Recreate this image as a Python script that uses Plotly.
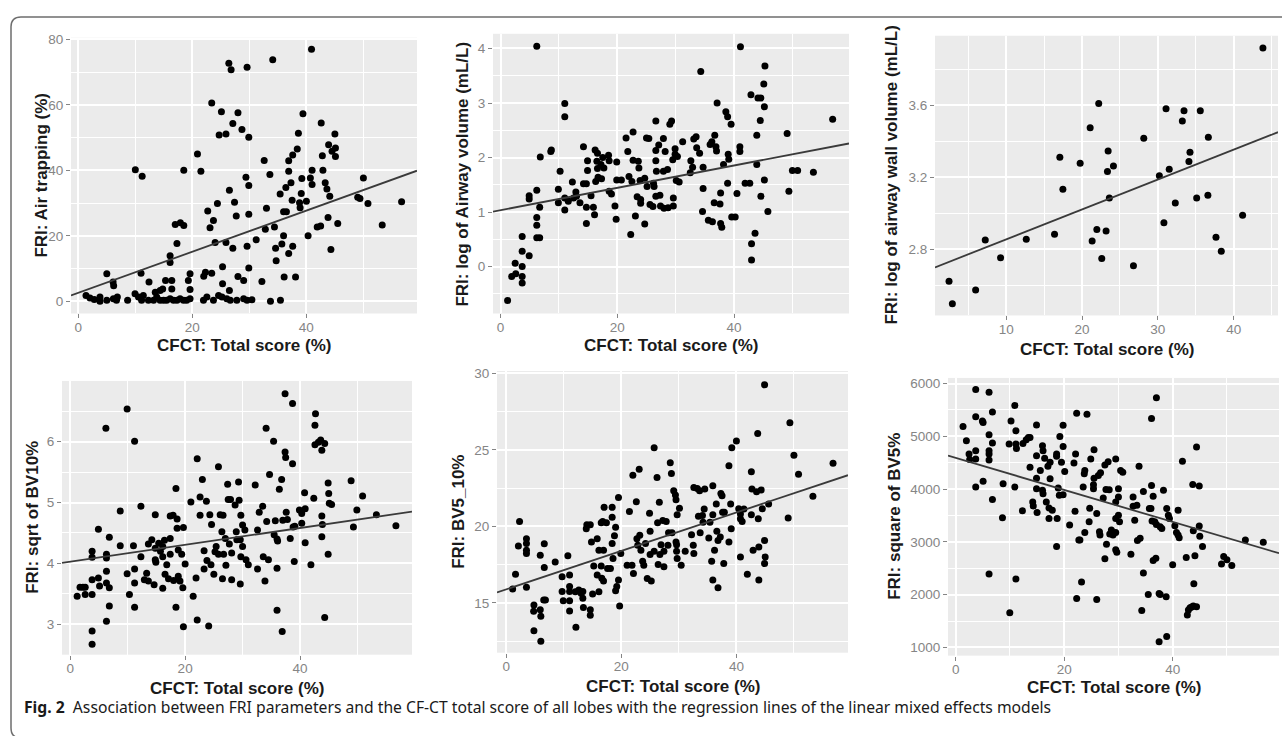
import plotly.graph_objects as go

# ---------------- data ----------------
x_title = "CFCT: Total score (%)"

p1_title = "FRI: Air trapping (%)"
p1_x = [1.35,2.05,2.8,3.8,3.8,5.0,6.15,6.7,6.85,8.65,9.95,10.55,11.1,11.4,12.3,13.2,13.75,14.35,14.95,15.5,
        16.1,16.7,17.3,17.85,18.45,19.0,19.6,21.95,22.55,23.7,24.6,25.2,26.05,26.65,27.8,29.0,29.6,30.45,33.7,35.45,
        13.5,14.35,14.8,16.4,19.6,25.3,26.5,5.0,6.1,6.2,10.0,11.2,11.0,12.4,15.3,16.4,16.1,16.1,17.0,17.3,
        17.9,18.5,18.5,19.3,19.6,20.9,21.5,22.0,22.3,22.7,23.1,23.7,23.4,23.4,24.0,24.4,24.7,25.1,25.3,25.9,
        25.9,26.4,26.8,26.5,27.1,27.1,27.4,27.7,28.0,28.0,28.7,29.0,29.6,29.4,29.6,29.9,29.9,29.9,29.9,31.2,
        32.2,32.6,32.8,33.0,33.6,34.1,34.4,34.6,34.7,35.4,35.7,36.0,36.0,36.1,36.4,36.5,36.9,36.9,36.9,37.3,
        37.5,37.6,37.6,38.1,38.4,38.6,38.8,38.9,39.1,39.2,39.4,40.0,40.3,40.7,40.9,41.0,41.0,41.9,42.5,42.6,
        42.8,42.9,43.3,43.6,43.8,43.9,44.1,44.3,44.5,45.0,45.1,45.1,45.5,49.0,49.4,50.0,50.8,53.3,56.7]
p1_y = [1.8,1.0,0.6,1.3,0.0,0.3,0.8,0.3,1.3,0.3,2.3,1.3,0.3,1.8,0.3,0.3,1.3,0.3,0.3,0.3,
        0.8,0.3,0.3,0.8,0.3,0.3,0.8,0.3,1.3,0.3,1.8,1.3,0.8,0.3,0.3,0.8,0.3,0.5,0.0,0.3,
        2.8,3.3,3.8,3.8,3.6,5.4,3.3,8.4,5.9,4.8,40.2,38.2,8.6,5.9,6.4,6.4,13.9,11.9,23.5,17.7,
        24.0,23.2,40.0,6.4,8.4,45.0,39.7,7.7,8.9,27.6,22.5,24.7,60.6,8.6,18.0,29.9,50.8,57.9,10.6,51.1,
        18.0,72.7,70.7,33.9,54.3,16.2,30.3,26.1,57.6,7.6,52.5,6.4,71.5,37.9,16.8,50.1,35.4,26.6,10.2,18.8,
        6.1,43.0,22.0,28.4,38.7,73.8,22.7,16.2,12.4,32.8,17.5,20.0,27.4,7.4,34.8,27.4,39.7,42.9,14.6,36.2,
        30.9,44.7,16.8,7.4,46.5,51.3,30.1,28.6,32.9,37.5,57.3,30.6,20.0,37.7,77.0,40.0,35.7,22.7,23.0,54.5,
        44.5,40.0,36.2,34.3,25.6,47.8,32.1,15.8,45.8,51.1,46.8,44.2,23.8,31.8,31.4,37.7,29.9,23.3,30.4]

p2_title = "FRI: log of Airway volume (mL/L)"
p2_x = [1.2,1.9,2.5,2.6,3.7,3.7,3.7,3.7,3.7,4.9,4.9,4.9,6.2,6.2,6.2,6.2,6.2,6.7,6.7,6.8,
        8.6,8.7,9.9,9.9,10.2,11.0,11.0,11.0,11.0,11.6,12.3,12.5,12.9,13.0,13.6,14.2,14.2,14.7,14.7,14.7,
        14.9,14.9,15.5,15.9,16.1,16.2,16.3,16.5,16.6,16.6,16.7,17.2,17.3,17.5,17.7,18.5,18.6,18.6,19.0,19.6,
        19.8,19.9,19.9,20.7,21.5,21.8,22.0,22.3,22.5,22.7,22.7,23.1,23.6,23.7,23.4,24.0,24.0,23.9,24.7,24.7,
        25.0,25.1,25.4,25.6,26.1,26.2,26.3,26.6,26.6,26.6,26.6,26.7,27.1,27.3,27.4,27.9,27.9,28.0,28.2,28.6,
        28.7,29.0,29.3,29.5,29.6,29.6,29.9,29.9,30.1,30.3,30.6,31.2,32.5,32.6,32.9,33.1,33.5,33.6,34.1,34.3,
        34.6,34.7,34.7,35.6,35.9,36.2,36.3,36.6,36.7,36.9,37.0,37.1,37.6,37.7,37.7,37.9,38.2,38.6,38.9,38.9,
        39.0,39.1,39.5,39.6,40.2,40.5,41.0,41.0,41.1,41.9,42.7,42.9,43.0,43.0,43.6,43.9,43.9,44.1,44.5,44.6,
        44.6,45.1,45.2,45.2,45.3,45.8,49.1,49.4,50.0,50.9,53.6,56.9]
p2_y = [-0.62,-0.18,0.06,-0.13,0.55,0.28,0.0,-0.18,-0.30,0.20,1.30,1.24,4.04,1.40,0.90,0.76,0.53,0.53,1.09,2.01,
        2.11,2.14,1.42,1.17,1.75,2.99,2.75,1.26,1.04,1.20,1.55,1.26,1.37,1.29,1.17,2.20,1.52,1.52,1.09,0.79,
        1.94,1.76,1.30,1.09,0.95,2.14,1.56,1.93,1.80,2.08,1.64,1.87,1.61,2.00,1.81,2.04,1.94,1.38,1.33,1.11,
        0.87,1.92,1.59,1.59,2.36,2.11,1.65,0.59,1.56,2.47,1.95,0.93,1.93,1.81,1.28,1.23,1.16,1.58,0.78,1.62,
        2.36,1.47,2.35,1.14,1.10,1.53,1.47,2.67,2.13,1.94,1.29,1.75,2.23,1.31,1.11,2.35,1.75,1.07,2.11,1.78,
        1.08,2.61,2.67,1.96,1.26,1.11,2.16,2.06,1.58,2.02,1.55,2.29,1.72,1.94,1.82,2.34,2.38,2.18,2.08,3.58,
        1.01,1.82,1.43,0.85,2.24,2.29,0.82,1.17,2.41,2.20,2.12,3.00,1.15,0.79,1.35,0.72,1.87,2.84,2.75,1.53,
        2.06,1.97,2.61,0.91,0.91,1.34,2.20,2.11,4.03,1.53,1.53,3.15,0.42,0.12,0.61,2.41,1.87,3.09,2.68,3.09,
        1.29,3.35,2.93,1.59,3.68,1.01,2.44,1.38,1.76,1.76,1.73,2.70]

p3_title = "FRI: log of airway wall volume (mL/L)"
p3_x = [2.45,2.89,5.96,7.23,9.25,12.64,16.37,17.07,17.47,19.75,21.07,21.33,21.95,22.2,22.6,23.17,23.35,23.44,23.6,24.14,
        26.78,28.14,30.2,30.8,31.08,31.5,32.3,33.23,33.45,34.1,34.24,35.12,35.6,36.6,36.66,37.67,38.37,41.18,43.86]
p3_y = [2.622,2.497,2.574,2.851,2.752,2.855,2.883,3.311,3.133,3.278,3.475,2.846,2.910,3.609,2.748,2.901,3.232,3.346,3.085,3.263,
        2.708,3.416,3.208,2.947,3.580,3.245,3.057,3.512,3.569,3.287,3.339,3.085,3.569,3.100,3.422,2.866,2.789,2.989,3.918]

p4_title = "FRI: sqrt of BV10%"
p4_x = [1.2,1.7,2.2,2.6,2.6,3.8,3.8,3.8,3.8,3.8,3.8,4.9,4.9,5.1,6.2,6.3,6.3,6.3,6.3,6.3,
        6.8,6.8,6.8,8.7,8.7,9.9,9.9,10.3,11.0,11.2,11.2,11.2,11.2,12.3,12.3,12.9,13.3,13.6,13.6,14.2,
        14.6,14.8,14.8,14.8,14.9,15.4,15.7,16.1,16.1,16.1,16.4,16.5,16.8,17.1,17.4,17.4,17.4,17.9,18.0,18.4,
        18.4,18.6,18.6,18.8,18.8,19.1,19.4,19.6,19.7,19.7,20.0,21.0,21.4,21.9,22.1,22.1,22.6,22.6,23.0,23.3,
        23.3,23.7,23.8,24.1,24.3,24.5,24.6,25.0,25.2,25.4,25.8,25.8,26.1,26.4,26.5,26.6,26.7,27.0,27.1,27.4,
        27.5,27.7,27.9,28.1,28.1,28.7,28.9,29.0,29.3,29.4,29.6,29.6,29.7,29.7,30.0,30.0,30.4,30.6,31.0,32.2,
        32.6,32.6,32.9,33.5,33.6,33.9,34.1,34.2,34.5,34.7,35.4,35.5,35.7,36.0,36.1,36.0,36.0,36.4,36.8,36.9,
        37.0,37.4,37.4,37.5,37.6,37.8,38.3,38.7,38.7,38.8,39.0,39.1,39.9,40.3,40.3,40.8,40.9,40.9,41.9,42.4,
        42.7,42.6,42.6,43.2,43.6,43.8,43.8,43.9,43.8,44.3,44.3,44.9,45.0,44.9,45.1,45.5,48.9,49.3,49.9,50.9,
        53.3,56.7]
p4_y = [3.46,3.61,3.61,3.61,3.49,4.20,4.10,3.73,3.49,2.89,2.67,4.56,3.76,3.63,6.22,4.15,4.09,3.87,3.68,3.05,
        4.43,3.60,3.30,4.86,4.29,6.54,3.83,3.49,4.29,6.01,3.91,3.68,3.28,4.94,4.11,3.73,3.84,3.71,4.32,4.39,
        3.65,4.80,4.25,4.06,4.02,4.33,4.20,4.28,4.11,3.59,4.38,3.82,3.98,3.75,4.78,4.15,4.41,4.79,3.72,5.23,
        3.28,4.73,4.58,4.22,3.79,3.71,4.15,3.60,4.59,2.96,3.99,5.01,3.46,3.76,5.72,3.07,4.79,5.09,5.38,4.21,
        3.91,5.02,4.05,2.97,4.80,3.98,4.64,3.82,4.19,4.28,5.59,4.15,4.80,4.52,3.75,4.79,4.15,4.41,3.97,5.30,
        5.05,4.32,5.05,4.17,3.73,4.96,4.52,4.39,5.34,5.04,4.39,3.66,4.11,4.79,4.28,4.63,4.55,4.06,3.98,5.29,
        4.55,3.91,4.84,4.94,4.11,3.71,6.22,4.69,4.06,5.46,6.01,4.47,4.70,4.40,4.37,3.92,3.23,5.22,5.38,2.88,
        4.71,6.79,5.83,5.74,4.84,4.72,4.41,6.63,5.64,4.60,4.03,4.61,4.88,4.82,4.66,5.16,4.90,4.34,3.98,5.07,
        6.46,6.27,5.95,5.99,6.03,5.86,4.78,4.64,4.44,5.97,3.11,5.32,5.15,4.15,4.99,4.97,5.36,4.60,4.88,5.11,
        4.80,4.62]

p5_title = "FRI: BV5_10%"
p5_x = [1.1,1.6,2.3,2.1,3.5,3.5,3.5,3.5,3.5,4.8,4.75,4.8,5.9,5.9,6.0,6.0,6.5,6.8,6.6,6.6,
        8.5,9.7,9.7,9.9,10.7,11.0,11.0,11.0,11.0,11.0,12.0,12.1,12.6,13.0,13.3,13.3,13.4,13.9,14.0,14.6,
        14.6,14.6,14.8,15.0,15.2,15.8,15.8,16.1,16.1,16.5,16.5,16.6,16.75,16.9,16.9,17.0,17.4,17.6,18.1,18.4,
        18.4,18.4,18.55,18.8,19.0,19.0,19.2,19.5,19.5,19.7,19.9,21.4,21.0,21.85,22.0,22.1,22.6,22.7,22.85,23.1,
        23.2,23.4,23.7,23.9,24.2,24.5,24.9,25.0,25.0,25.2,25.7,25.7,26.2,26.3,26.4,26.6,26.7,26.9,27.2,27.4,
        27.4,27.8,28.1,28.2,28.5,28.7,28.8,29.1,29.4,29.5,29.5,29.6,29.6,29.7,29.7,30.1,30.4,31.1,32.2,32.5,
        32.6,32.6,33.2,33.4,33.6,33.7,34.1,34.2,34.4,34.5,35.2,35.4,35.7,35.9,35.9,35.9,36.2,36.5,36.6,36.8,
        36.8,37.2,37.3,37.5,37.6,37.9,37.8,38.7,38.7,39.0,39.1,39.2,40.0,40.4,40.7,40.7,41.0,40.7,41.3,41.9,
        42.6,42.6,42.7,42.9,43.5,43.7,43.8,43.9,43.9,44.3,44.5,44.9,45.0,44.9,44.9,45.6,49.0,49.3,50.0,50.8,
        53.3,56.8]
p5_y = [15.92,16.87,20.32,18.73,19.20,18.88,18.44,18.23,16.02,14.87,14.45,13.18,18.12,14.55,14.13,12.50,15.20,15.20,18.87,17.32,
        17.68,16.71,15.75,15.14,18.08,16.82,16.07,15.75,15.14,14.48,15.74,13.41,15.85,15.63,15.75,15.30,14.70,19.85,20.11,20.11,
        14.55,14.19,18.98,15.58,17.42,19.20,16.82,18.44,15.74,20.24,17.42,16.61,20.32,18.44,16.44,21.25,20.24,17.26,17.26,21.25,
        18.88,20.60,17.90,19.40,19.95,15.79,16.07,21.90,16.50,14.80,18.23,20.97,17.47,17.47,23.35,16.93,21.62,19.20,18.77,23.74,
        19.42,18.44,17.73,17.47,18.88,16.60,20.87,19.68,18.16,16.44,25.15,18.38,23.20,20.24,17.52,21.58,18.16,18.81,20.39,17.37,
        18.38,20.32,18.77,19.59,24.17,23.46,19.59,22.34,22.05,21.75,18.98,18.81,18.38,17.90,20.76,21.19,17.47,18.38,19.46,18.77,
        18.23,22.55,22.48,20.67,22.33,19.59,20.71,20.28,21.14,22.44,19.24,20.28,17.73,22.66,20.76,16.50,18.44,21.47,19.68,19.09,
        16.00,19.31,22.16,22.01,20.93,20.93,17.58,23.96,18.98,21.47,19.85,25.15,25.58,21.15,20.82,20.50,20.32,18.01,21.14,16.87,
        23.57,20.76,22.44,18.44,22.27,26.08,20.50,18.66,16.50,22.38,21.15,19.09,18.01,17.58,29.26,21.47,20.56,26.77,24.65,23.42,
        21.97,24.13]

p6_title = "FRI: square of BV5%"
p6_x = [1.35,1.97,2.46,2.58,3.69,3.69,3.69,3.69,3.69,4.92,5.05,5.05,6.15,6.15,6.15,6.15,6.15,6.15,6.77,6.77,
        6.77,8.62,8.74,9.97,10.2,9.85,10.9,11.1,11.1,10.9,11.1,11.2,12.3,12.4,13.0,13.4,13.7,13.7,14.2,14.3,
        14.9,14.9,14.9,14.9,15.0,15.6,16.0,16.0,16.1,16.1,16.4,16.7,17.0,17.2,17.2,17.4,17.4,17.8,18.6,18.6,
        18.6,18.7,18.9,19.1,19.2,19.5,19.8,19.8,19.8,20.1,21.0,21.8,22.0,22.1,22.3,22.3,22.7,22.9,23.2,23.5,
        23.7,23.8,23.8,24.2,24.6,24.7,24.9,25.4,25.4,25.5,25.5,26.0,26.0,26.3,26.5,26.6,26.7,27.2,27.5,27.5,
        27.7,27.8,28.1,28.3,28.4,28.7,29.0,29.5,29.5,29.5,29.5,29.5,29.7,30.0,30.0,30.0,30.2,30.4,30.8,32.3,
        32.7,32.7,33.0,33.4,33.5,33.8,34.0,34.3,34.6,34.6,35.5,35.7,36.0,36.1,36.1,36.2,36.4,36.4,36.7,36.9,
        37.0,37.0,37.5,37.5,37.7,37.7,38.0,38.3,38.8,38.9,38.9,39.2,39.4,40.0,40.4,40.7,41.0,41.0,41.2,41.8,
        42.5,42.7,42.9,43.2,43.5,43.8,43.9,43.8,44.1,43.7,44.4,44.4,44.9,44.9,45.0,45.5,49.0,49.4,50.0,50.9,
        53.4,56.7]
p6_y = [5185,4916,4665,4559,5887,5373,4728,4571,4039,5292,5261,4151,5837,5029,4728,4665,4553,2391,5461,4872,
        3801,3456,4101,1658,5292,4853,5586,5104,4853,4039,2297,4772,3588,4866,4935,4979,4979,4415,3757,3682,
        5217,4634,4208,4008,3557,4352,4822,3977,3914,4728,4584,3757,4434,3444,3644,4195,4509,3600,2911,4665,
        4622,3444,4020,3882,4997,4509,5210,4809,3895,4333,3318,4496,3581,4665,5436,1927,3036,3036,2240,4039,
        4290,3180,4352,5418,3381,3638,4571,4008,4083,4208,4747,1908,3538,4259,3193,3130,4309,3832,2679,4459,
        3995,2955,4521,3989,3149,3224,3130,4571,3757,3444,3180,2849,2805,4008,3851,3506,3381,4352,4321,2767,
        3851,3676,3412,3694,3024,4434,3068,1702,3957,2410,2002,3632,3632,5336,4070,3394,3864,2648,3381,2692,
        5731,3331,2021,1106,2002,3287,3255,3977,1958,1207,3632,3506,3444,2566,3306,3180,3130,3600,3080,4528,
        2705,1614,1708,1752,1764,1783,2209,3212,2736,4089,4797,1770,4058,3300,3105,2911,2579,2723,2660,2554,
        3036,2993]

# regression lines (intercept, slope) of the linear mixed models
line_intercepts = [2.6, 1.034, 2.689, 4.03, 15.89, 4591]
line_slopes = [0.628, 0.0205, 0.0166, 0.0138, 0.1256, -30.3]

caption_bold = "Fig. 2"
caption_text = ("Association between FRI parameters and the CF-CT total score of all lobes "
                "with the regression lines of the linear mixed effects models")

# ---------------- layout helpers ----------------
W, H = 1282, 736
def fx(p):
    return p / W
def fy(p):
    return 1 - p / H

panels = [
    dict(x=p1_x, y=p1_y, title=p1_title, box=(71, 32, 417, 310), xr=[-1.28, 59.4], yr=[-3.7, 80.5],
         xt=[0, 20, 40], xtt=["0", "20", "40"], xm=(10, 20),
         yt=[0, 20, 40, 60, 80], ytt=["0", "20", "40", "60", "80"], ym=(10, 20), ytx=42, xty=342),
    dict(x=p2_x, y=p2_y, title=p2_title, box=(493, 28, 849, 310), xr=[-1.3, 59.7], yr=[-0.86, 4.27],
         xt=[0, 20, 40], xtt=["0", "20", "40"], xm=(10, 20),
         yt=[0, 1, 2, 3, 4], ytt=["0", "1", "2", "3", "4"], ym=(0.5, 1), ytx=463, xty=342),
    dict(x=p3_x, y=p3_y, title=p3_title, box=(935, 30, 1278, 312), xr=[0.6, 45.85], yr=[2.432, 3.986],
         xt=[10, 20, 30, 40], xtt=["10", "20", "30", "40"], xm=(5, 10),
         yt=[2.8, 3.2, 3.6], ytt=["2.8", "3.2", "3.6"], ym=(2.6, 0.4), ytx=892, xty=346),
    dict(x=p4_x, y=p4_y, title=p4_title, box=(62, 378, 412, 654), xr=[-1.44, 59.5], yr=[2.5, 7.0],
         xt=[0, 20, 40], xtt=["0", "20", "40"], xm=(10, 20),
         yt=[3, 4, 5, 6], ytt=["3", "4", "5", "6"], ym=(2.5, 1), ytx=33, xty=688),
    dict(x=p5_x, y=p5_y, title=p5_title, box=(497, 368, 848, 652), xr=[-1.62, 59.4], yr=[11.75, 30.16],
         xt=[0, 20, 40], xtt=["0", "20", "40"], xm=(10, 20),
         yt=[15, 20, 25, 30], ytt=["15", "20", "25", "30"], ym=(12.5, 5), ytx=459, xty=686),
    dict(x=p6_x, y=p6_y, title=p6_title, box=(948, 375, 1279, 655), xr=[-1.42, 59.6], yr=[844, 6107],
         xt=[0, 20, 40], xtt=["0", "20", "40"], xm=(10, 20),
         yt=[1000, 2000, 3000, 4000, 5000, 6000], ytt=["1000", "2000", "3000", "4000", "5000", "6000"],
         ym=(1500, 1000), ytx=895, xty=687),
]

TICK_COL = "#858585"
TITLE_FONT = dict(family="Liberation Sans, Arial, sans-serif", size=17, color="#1a1a1a")
TICK_FONT = dict(family="Liberation Sans, Arial, sans-serif", size=13.5, color=TICK_COL)

fig = go.Figure()
annotations = []
layout_axes = {}

for i, p in enumerate(panels, start=1):
    xa = "x" if i == 1 else f"x{i}"
    ya = "y" if i == 1 else f"y{i}"
    x0, y0, x1, y1 = p["box"]
    fig.add_trace(go.Scatter(
        x=p["x"], y=p["y"], mode="markers", xaxis=xa, yaxis=ya,
        marker=dict(color="black", size=7, line=dict(width=0)),
        showlegend=False, hoverinfo="x+y"))
    # regression line across the panel range
    b0, b1 = line_intercepts[i - 1], line_slopes[i - 1]
    lx = [p["xr"][0], p["xr"][1]]
    ly = [b0 + b1 * v for v in lx]
    fig.add_trace(go.Scatter(
        x=lx, y=ly, mode="lines", xaxis=xa, yaxis=ya,
        line=dict(color="#3a3a3a", width=1.8), showlegend=False, hoverinfo="skip"))

    common = dict(showgrid=True, gridcolor="white", gridwidth=1.6, zeroline=False, showline=False,
                  ticks="outside", ticklen=4, tickwidth=1, tickcolor=TICK_COL, tickfont=TICK_FONT,
                  fixedrange=True)
    layout_axes["xaxis" if i == 1 else f"xaxis{i}"] = dict(
        common, domain=[fx(x0), fx(x1)], range=p["xr"], anchor=ya, ticklabelstandoff=-3,
        tickmode="array", tickvals=p["xt"], ticktext=p["xtt"],
        minor=dict(tick0=p["xm"][0], dtick=p["xm"][1], showgrid=True, gridcolor="white",
                   gridwidth=0.7, ticks=""))
    layout_axes["yaxis" if i == 1 else f"yaxis{i}"] = dict(
        common, domain=[fy(y1), fy(y0)], range=p["yr"], anchor=xa,
        tickmode="array", tickvals=p["yt"], ticktext=p["ytt"],
        minor=dict(tick0=p["ym"][0], dtick=p["ym"][1], showgrid=True, gridcolor="white",
                   gridwidth=0.7, ticks=""))

    # axis titles
    annotations.append(dict(text=f"<b>{x_title}</b>", x=fx((x0 + x1) / 2), y=fy(p["xty"]),
                            xref="paper", yref="paper", showarrow=False,
                            xanchor="center", yanchor="middle", font=TITLE_FONT))
    annotations.append(dict(text=f"<b>{p['title']}</b>", x=fx(p["ytx"]), y=fy((y0 + y1) / 2),
                            xref="paper", yref="paper", showarrow=False, textangle=-90,
                            xanchor="center", yanchor="middle", font=TITLE_FONT))

# caption
annotations.append(dict(text=f"<b>{caption_bold}</b>  {caption_text}", x=fx(22), y=fy(707),
                        xref="paper", yref="paper", showarrow=False, xanchor="left", yanchor="middle",
                        font=dict(family="Noto Sans, Open Sans, sans-serif", size=15.7, color="#1a1a1a")))

# rounded frame (left + top edges visible)
bx0, by0, bx1, by1, r = 11, 11, 1300, 738, 10
path = (f"M {fx(bx1)},{fy(by0)} L {fx(bx0 + r)},{fy(by0)} "
        f"Q {fx(bx0)},{fy(by0)} {fx(bx0)},{fy(by0 + r)} "
        f"L {fx(bx0)},{fy(by1 - r)} Q {fx(bx0)},{fy(by1)} {fx(bx0 + r)},{fy(by1)} "
        f"L {fx(bx1)},{fy(by1)}")
shapes = [dict(type="path", path=path, xref="paper", yref="paper",
               line=dict(color="#6e6e6e", width=1.5), layer="above")]

fig.update_layout(
    width=W, height=H, autosize=False,
    margin=dict(l=0, r=0, t=0, b=0),
    paper_bgcolor="white", plot_bgcolor="#EBEBEB",
    annotations=annotations, shapes=shapes,
    **layout_axes,
)

fig.write_html("out.html", config={"displayModeBar": False},
               post_script="document.body.style.margin='0';document.body.style.overflow='hidden';")
